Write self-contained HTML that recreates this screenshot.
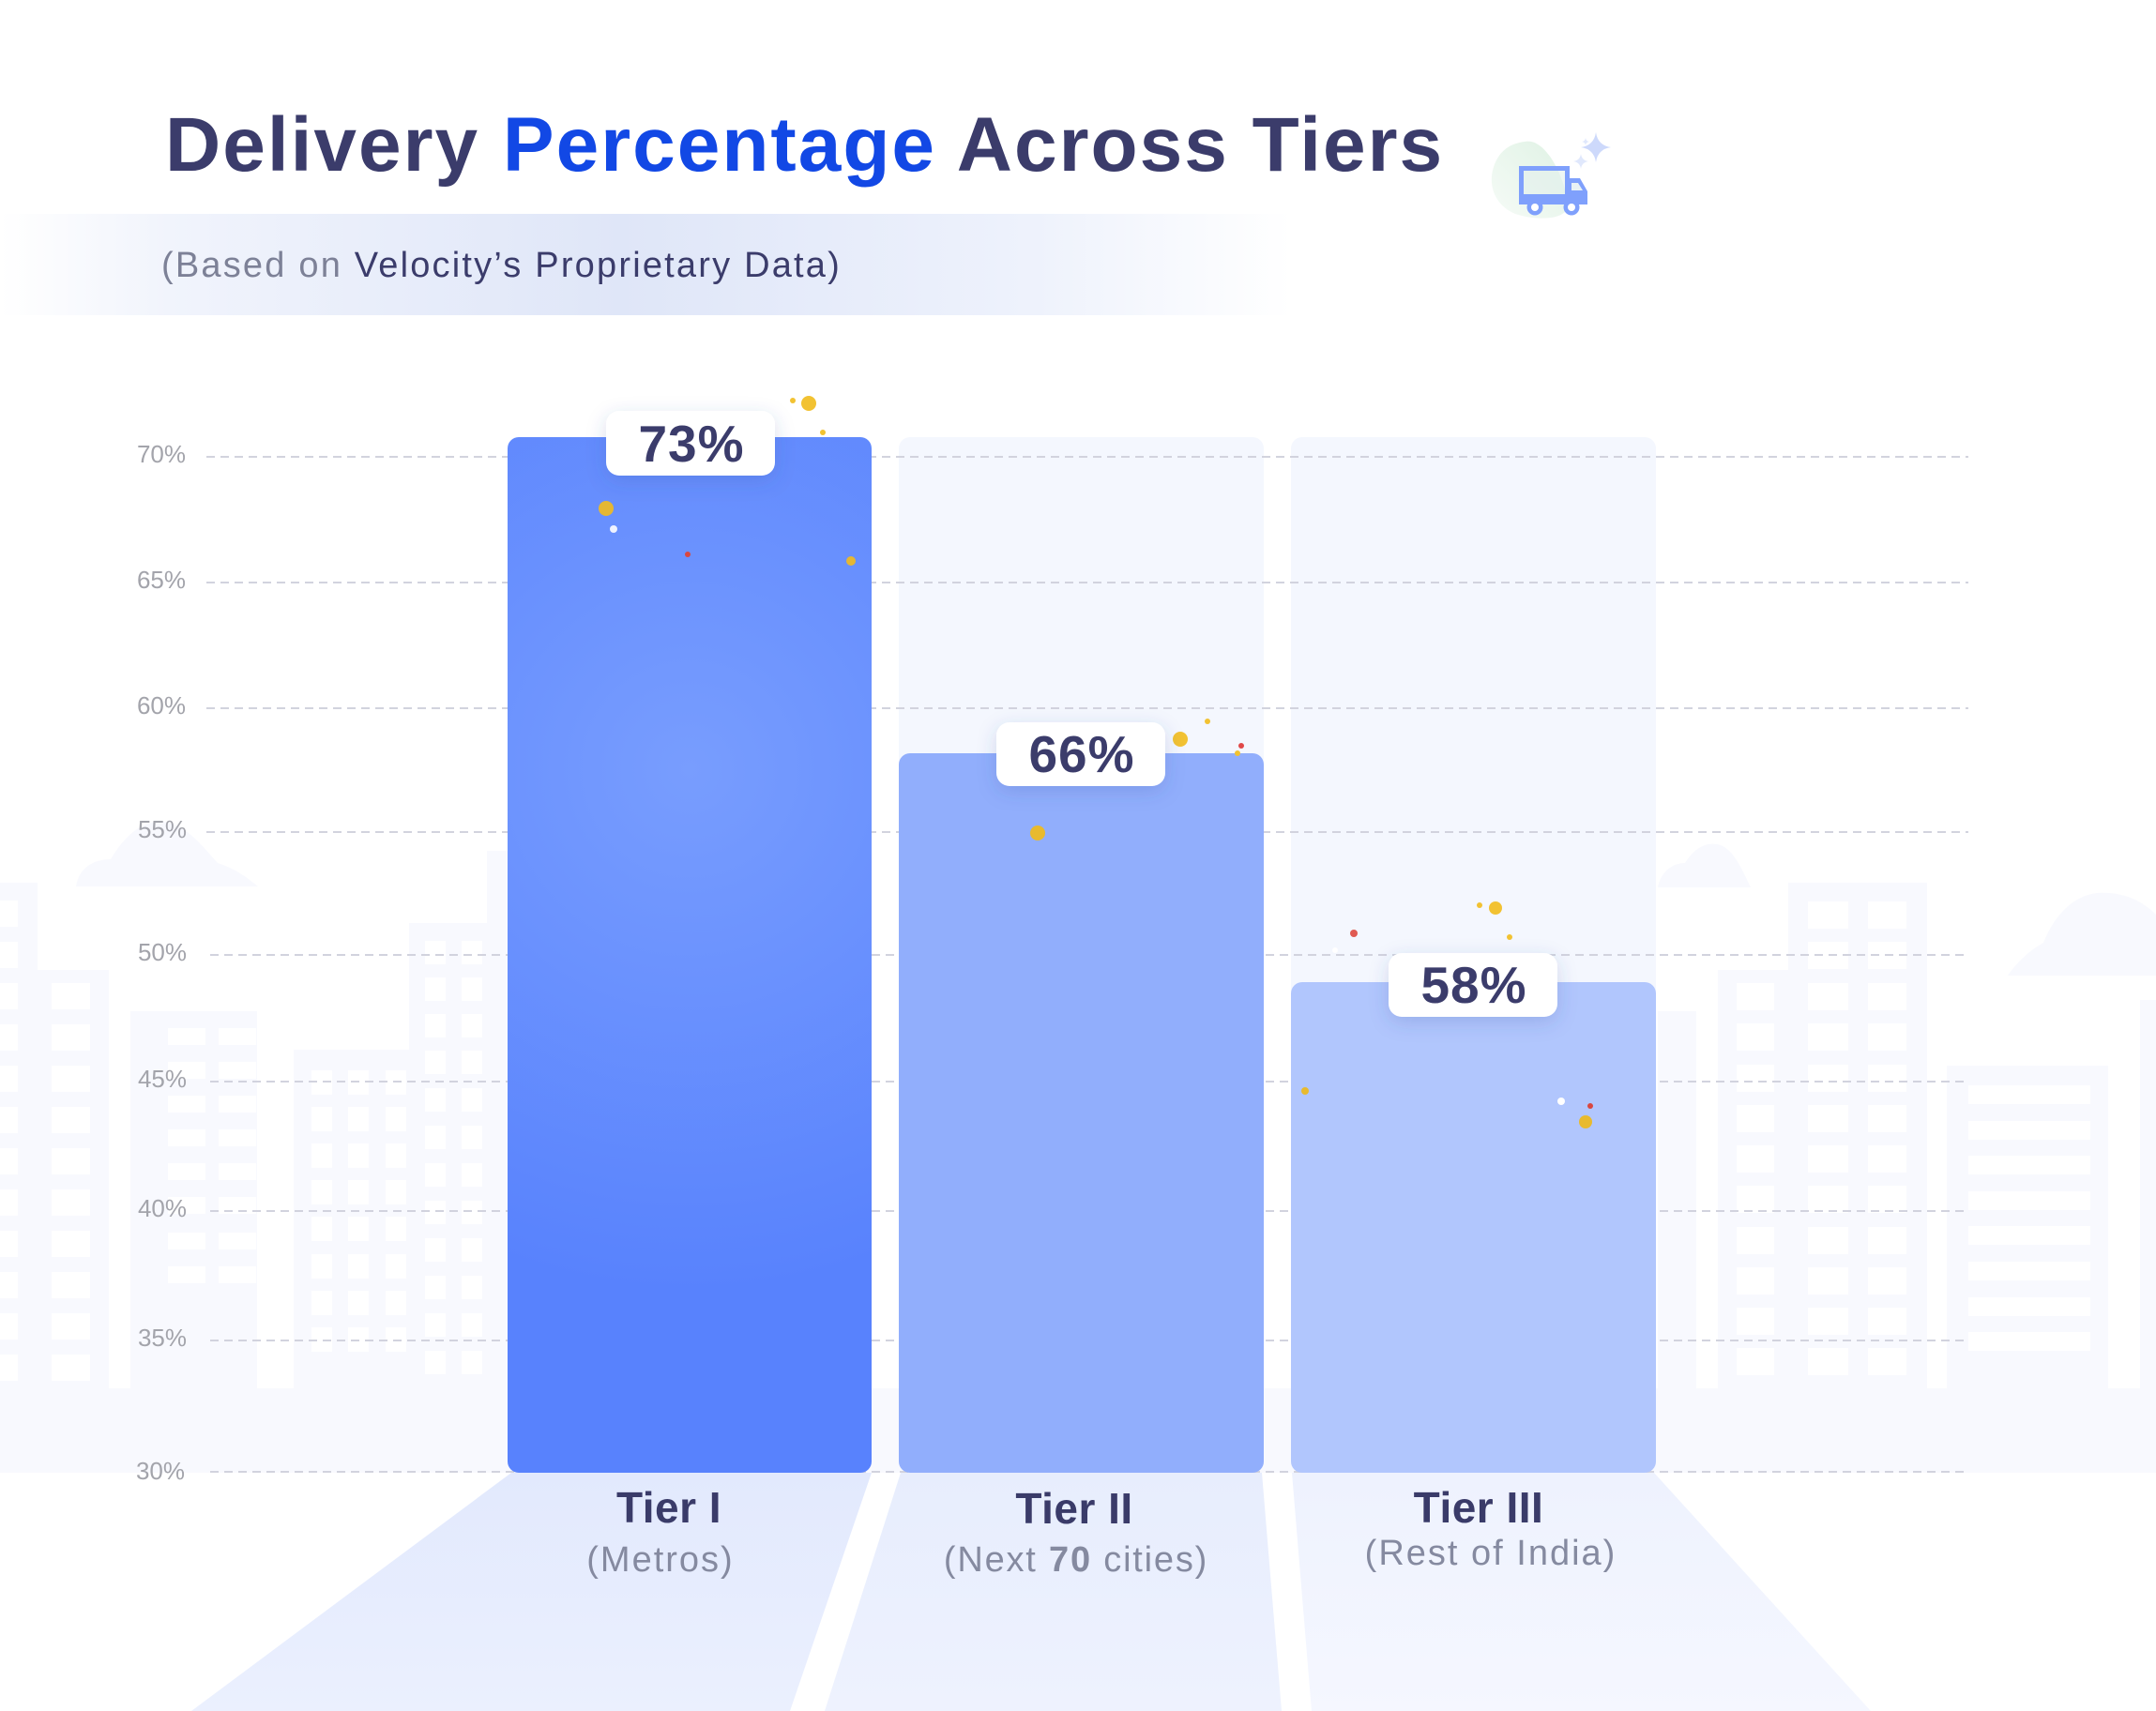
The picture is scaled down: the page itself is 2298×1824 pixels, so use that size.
<!DOCTYPE html>
<html>
<head>
<meta charset="utf-8">
<style>
  html, body { margin: 0; padding: 0; background: #ffffff; }
  body { width: 2298px; height: 1824px; overflow: hidden; }
  svg { display: block; }
  text { font-family: "Liberation Sans", "DejaVu Sans", sans-serif; }
</style>
</head>
<body>
<svg width="2298" height="1824" viewBox="0 0 2298 1824" xmlns="http://www.w3.org/2000/svg">
  <defs>
    <linearGradient id="band" x1="0" y1="0" x2="1" y2="0">
      <stop offset="0" stop-color="#ffffff"/>
      <stop offset="0.13" stop-color="#f1f4fc"/>
      <stop offset="0.48" stop-color="#dfe6f8"/>
      <stop offset="0.8" stop-color="#eef2fc"/>
      <stop offset="1" stop-color="#ffffff"/>
    </linearGradient>
    <radialGradient id="bar1g" gradientUnits="userSpaceOnUse" cx="735" cy="820" r="560">
      <stop offset="0" stop-color="#789dfe"/>
      <stop offset="1" stop-color="#5882fd"/>
    </radialGradient>
    <linearGradient id="fl1" x1="0" y1="0" x2="0" y2="1">
      <stop offset="0" stop-color="#e2e9fd"/>
      <stop offset="1" stop-color="#ebf0fe"/>
    </linearGradient>
    <linearGradient id="fl2" x1="0" y1="0" x2="0" y2="1">
      <stop offset="0" stop-color="#e7edfd"/>
      <stop offset="1" stop-color="#eef2fe"/>
    </linearGradient>
    <linearGradient id="fl3" x1="0" y1="0" x2="0" y2="1">
      <stop offset="0" stop-color="#eef2fe"/>
      <stop offset="1" stop-color="#f5f7ff"/>
    </linearGradient>
    <linearGradient id="blob" x1="0" y1="1" x2="1" y2="0">
      <stop offset="0" stop-color="#f6fbf7"/>
      <stop offset="1" stop-color="#dff2e4"/>
    </linearGradient>
    <filter id="sh" x="-30%" y="-50%" width="160%" height="220%">
      <feDropShadow dx="0" dy="6" stdDeviation="10" flood-color="#3c50a0" flood-opacity="0.2"/>
    </filter>
  </defs>

  <!-- Subtitle band -->
  <rect x="0" y="228" width="1377" height="108" fill="url(#band)"/>

  <!-- Title -->
  <text x="176" y="182" font-size="82" font-weight="700" letter-spacing="2" fill="#3b3c6b">Delivery <tspan fill="#1248e5">Percentage</tspan> Across Tiers</text>

  <!-- Subtitle -->
  <text x="172" y="295" font-size="38" letter-spacing="2.2" fill="#7d8197">(Based on <tspan fill="#3b3c6b">Velocity’s Proprietary Data)</tspan></text>

  <!-- Truck icon -->
  <path d="M1625 151 C1648 146 1668 190 1672 220 C1668 234 1640 236 1615 228 C1592 218 1586 196 1592 178 C1598 160 1610 153 1625 151 Z" fill="url(#blob)"/>
  <rect x="1621.5" y="179.5" width="49" height="33" fill="#e3f0ec" fill-opacity="0.6" stroke="#7fa0fc" stroke-width="5"/>
  <rect x="1619" y="207" width="73" height="11" fill="#7fa0fc"/>
  <path d="M1670 190 L1684 190 L1692 204 L1692 218 L1670 218 Z" fill="#7fa0fc"/>
  <path d="M1675 195 L1682 195 L1687 203 L1675 203 Z" fill="#e8f1f4"/>
  <circle cx="1636" cy="221" r="8.5" fill="#7fa0fc"/>
  <circle cx="1636" cy="221" r="4" fill="#ffffff"/>
  <circle cx="1675" cy="221" r="8.5" fill="#7fa0fc"/>
  <circle cx="1675" cy="221" r="4" fill="#ffffff"/>
  <!-- sparkles -->
  <path d="M1701 141 Q1703 155 1717 157 Q1703 159 1701 173 Q1699 159 1685 157 Q1699 155 1701 141 Z" fill="#cdd9fb"/>
  <path d="M1685 164 Q1686 171 1693 172 Q1686 173 1685 180 Q1684 173 1677 172 Q1684 171 1685 164 Z" fill="#e0e8fc"/>
  <path d="M1690 147 Q1690.5 150.5 1694 151 Q1690.5 151.5 1690 155 Q1689.5 151.5 1686 151 Q1689.5 150.5 1690 147 Z" fill="#e0e8fc"/>

  <!-- Faint skyline (left) -->
  <g fill="#f8f9fe">
    <path d="M81 945 C84 925 100 916 118 916 C132 892 150 876 170 876 C196 876 214 900 232 920 C250 926 262 934 275 945 Z"/>
    <rect x="0" y="941" width="40" height="629"/>
    <rect x="40" y="1034" width="76" height="536"/>
    <rect x="139" y="1078" width="135" height="492"/>
    <rect x="313" y="1119" width="123" height="451"/>
    <rect x="436" y="984" width="83" height="586"/>
    <rect x="519" y="907" width="22" height="663"/>
    <!-- right -->
    <path d="M1767 946 C1770 930 1782 920 1796 920 C1806 904 1818 898 1830 900 C1846 902 1856 925 1866 946 Z"/>
    <rect x="1767" y="1078" width="41" height="492"/>
    <rect x="1831" y="1034" width="75" height="536"/>
    <rect x="1906" y="941" width="148" height="629"/>
    <rect x="2075" y="1136" width="172" height="434"/>
    <rect x="2281" y="1066" width="17" height="504"/>
    <path d="M2140 1040 C2150 1025 2165 1012 2178 1005 C2190 975 2210 955 2235 952 C2265 950 2285 962 2298 975 L2298 1040 Z"/>
    <rect x="0" y="1480" width="2298" height="90"/>
  </g>
  <g fill="#ffffff">
    <!-- windows left -->
    <rect x="0" y="960" width="19" height="28"/><rect x="0" y="1004" width="19" height="28"/><rect x="0" y="1048" width="19" height="28"/><rect x="0" y="1092" width="19" height="28"/><rect x="0" y="1136" width="19" height="28"/><rect x="0" y="1180" width="19" height="28"/><rect x="0" y="1224" width="19" height="28"/><rect x="0" y="1268" width="19" height="28"/><rect x="0" y="1312" width="19" height="28"/><rect x="0" y="1356" width="19" height="28"/><rect x="0" y="1400" width="19" height="28"/><rect x="0" y="1444" width="19" height="28"/>
    <rect x="55" y="1048" width="41" height="28"/><rect x="55" y="1092" width="41" height="28"/><rect x="55" y="1136" width="41" height="28"/><rect x="55" y="1180" width="41" height="28"/><rect x="55" y="1224" width="41" height="28"/><rect x="55" y="1268" width="41" height="28"/><rect x="55" y="1312" width="41" height="28"/><rect x="55" y="1356" width="41" height="28"/><rect x="55" y="1400" width="41" height="28"/><rect x="55" y="1444" width="41" height="28"/>
    <rect x="179" y="1096" width="40" height="18"/><rect x="233" y="1096" width="40" height="18"/><rect x="179" y="1132" width="40" height="18"/><rect x="233" y="1132" width="40" height="18"/><rect x="179" y="1168" width="40" height="18"/><rect x="233" y="1168" width="40" height="18"/><rect x="179" y="1204" width="40" height="18"/><rect x="233" y="1204" width="40" height="18"/><rect x="179" y="1240" width="40" height="18"/><rect x="233" y="1240" width="40" height="18"/><rect x="179" y="1276" width="40" height="18"/><rect x="233" y="1276" width="40" height="18"/><rect x="179" y="1314" width="40" height="18"/><rect x="233" y="1314" width="40" height="18"/><rect x="179" y="1350" width="40" height="18"/><rect x="233" y="1350" width="40" height="18"/>
    <rect x="332" y="1141" width="22" height="26"/><rect x="371" y="1141" width="22" height="26"/><rect x="411" y="1141" width="22" height="26"/>
    <rect x="332" y="1180" width="22" height="26"/><rect x="371" y="1180" width="22" height="26"/><rect x="411" y="1180" width="22" height="26"/>
    <rect x="332" y="1219" width="22" height="26"/><rect x="371" y="1219" width="22" height="26"/><rect x="411" y="1219" width="22" height="26"/>
    <rect x="332" y="1258" width="22" height="26"/><rect x="371" y="1258" width="22" height="26"/><rect x="411" y="1258" width="22" height="26"/>
    <rect x="332" y="1297" width="22" height="26"/><rect x="371" y="1297" width="22" height="26"/><rect x="411" y="1297" width="22" height="26"/>
    <rect x="332" y="1337" width="22" height="26"/><rect x="371" y="1337" width="22" height="26"/><rect x="411" y="1337" width="22" height="26"/>
    <rect x="332" y="1376" width="22" height="26"/><rect x="371" y="1376" width="22" height="26"/><rect x="411" y="1376" width="22" height="26"/>
    <rect x="332" y="1415" width="22" height="26"/><rect x="371" y="1415" width="22" height="26"/><rect x="411" y="1415" width="22" height="26"/>
    <rect x="453" y="1003" width="22" height="25"/><rect x="492" y="1003" width="22" height="25"/><rect x="453" y="1042" width="22" height="25"/><rect x="492" y="1042" width="22" height="25"/><rect x="453" y="1081" width="22" height="25"/><rect x="492" y="1081" width="22" height="25"/><rect x="453" y="1120" width="22" height="25"/><rect x="492" y="1120" width="22" height="25"/><rect x="453" y="1160" width="22" height="25"/><rect x="492" y="1160" width="22" height="25"/><rect x="453" y="1200" width="22" height="25"/><rect x="492" y="1200" width="22" height="25"/><rect x="453" y="1240" width="22" height="25"/><rect x="492" y="1240" width="22" height="25"/><rect x="453" y="1280" width="22" height="25"/><rect x="492" y="1280" width="22" height="25"/><rect x="453" y="1320" width="22" height="25"/><rect x="492" y="1320" width="22" height="25"/><rect x="453" y="1360" width="22" height="25"/><rect x="492" y="1360" width="22" height="25"/><rect x="453" y="1400" width="22" height="25"/><rect x="492" y="1400" width="22" height="25"/><rect x="453" y="1440" width="22" height="25"/><rect x="492" y="1440" width="22" height="25"/>
    <!-- windows right -->
    <rect x="1927" y="961" width="43" height="29"/><rect x="1991" y="961" width="41" height="29"/>
    <rect x="1927" y="1004" width="43" height="29"/><rect x="1991" y="1004" width="41" height="29"/>
    <rect x="1851" y="1048" width="40" height="29"/><rect x="1927" y="1048" width="43" height="29"/><rect x="1991" y="1048" width="41" height="29"/>
    <rect x="1851" y="1091" width="40" height="29"/><rect x="1927" y="1091" width="43" height="29"/><rect x="1991" y="1091" width="41" height="29"/>
    <rect x="1851" y="1135" width="40" height="29"/><rect x="1927" y="1135" width="43" height="29"/><rect x="1991" y="1135" width="41" height="29"/>
    <rect x="1851" y="1178" width="40" height="29"/><rect x="1927" y="1178" width="43" height="29"/><rect x="1991" y="1178" width="41" height="29"/>
    <rect x="1851" y="1221" width="40" height="29"/><rect x="1927" y="1221" width="43" height="29"/><rect x="1991" y="1221" width="41" height="29"/>
    <rect x="1851" y="1264" width="40" height="29"/><rect x="1927" y="1264" width="43" height="29"/><rect x="1991" y="1264" width="41" height="29"/>
    <rect x="1851" y="1308" width="40" height="29"/><rect x="1927" y="1308" width="43" height="29"/><rect x="1991" y="1308" width="41" height="29"/>
    <rect x="1851" y="1351" width="40" height="29"/><rect x="1927" y="1351" width="43" height="29"/><rect x="1991" y="1351" width="41" height="29"/>
    <rect x="1851" y="1394" width="40" height="29"/><rect x="1927" y="1394" width="43" height="29"/><rect x="1991" y="1394" width="41" height="29"/>
    <rect x="1851" y="1437" width="40" height="29"/><rect x="1927" y="1437" width="43" height="29"/><rect x="1991" y="1437" width="41" height="29"/>
    <rect x="2098" y="1157" width="130" height="20"/><rect x="2098" y="1195" width="130" height="20"/><rect x="2098" y="1232" width="130" height="20"/><rect x="2098" y="1270" width="130" height="20"/><rect x="2098" y="1307" width="130" height="20"/><rect x="2098" y="1345" width="130" height="20"/><rect x="2098" y="1383" width="130" height="20"/><rect x="2098" y="1420" width="130" height="20"/>
  </g>

  <!-- Floor trapezoids -->
  <polygon points="545,1570 929,1570 842,1824 204,1824" fill="url(#fl1)"/>
  <polygon points="960,1570 1345,1570 1366,1824 879,1824" fill="url(#fl2)"/>
  <polygon points="1377,1570 1763,1570 1994,1824 1398,1824" fill="url(#fl3)"/>

  <!-- Light background bars -->
  <rect x="958" y="466" width="389" height="1104" rx="12" fill="#f4f7fe"/>
  <rect x="1376" y="466" width="389" height="1104" rx="12" fill="#f4f7fe"/>

  <!-- Gridlines -->
  <g stroke="#d2d3de" stroke-width="2" stroke-dasharray="9 6">
    <line x1="220" y1="487" x2="2098" y2="487"/>
    <line x1="220" y1="621" x2="2098" y2="621"/>
    <line x1="220" y1="755" x2="2098" y2="755"/>
    <line x1="220" y1="887" x2="2098" y2="887"/>
    <line x1="224" y1="1018" x2="2098" y2="1018"/>
    <line x1="224" y1="1153" x2="2098" y2="1153"/>
    <line x1="224" y1="1291" x2="2098" y2="1291"/>
    <line x1="224" y1="1429" x2="2098" y2="1429"/>
    <line x1="224" y1="1569" x2="2098" y2="1569"/>
  </g>

  <!-- Y axis labels -->
  <g font-size="26" fill="#a3a4ab" text-anchor="end">
    <text x="198" y="493">70%</text>
    <text x="198" y="627">65%</text>
    <text x="198" y="761">60%</text>
    <text x="199" y="893">55%</text>
    <text x="199" y="1024">50%</text>
    <text x="199" y="1159">45%</text>
    <text x="199" y="1297">40%</text>
    <text x="199" y="1435">35%</text>
    <text x="197" y="1577">30%</text>
  </g>

  <!-- Bars -->
  <rect x="541" y="466" width="388" height="1104" rx="12" fill="url(#bar1g)"/>
  <rect x="958" y="803" width="389" height="767" rx="12" fill="#91aefc"/>
  <rect x="1376" y="1047" width="389" height="523" rx="12" fill="#b1c6fd"/>

  <!-- Confetti dots -->
  <g>
    <circle cx="862" cy="430" r="8" fill="#f2c232"/>
    <circle cx="845" cy="427" r="3" fill="#f2c232"/>
    <circle cx="877" cy="461" r="3" fill="#f2c232"/>
    <circle cx="646" cy="542" r="8" fill="#e5b733"/>
    <circle cx="654" cy="564" r="4" fill="#eef2ff"/>
    <circle cx="733" cy="591" r="3" fill="#d9473f"/>
    <circle cx="907" cy="598" r="5" fill="#e5b733"/>

    <circle cx="1258" cy="788" r="8" fill="#f2c232"/>
    <circle cx="1287" cy="769" r="3" fill="#f2c232"/>
    <circle cx="1323" cy="795" r="3" fill="#e04848"/>
    <circle cx="1319" cy="803" r="3" fill="#f2c232"/>
    <circle cx="1106" cy="888" r="8" fill="#e8ba2e"/>

    <circle cx="1443" cy="995" r="4" fill="#e05a52"/>
    <circle cx="1594" cy="968" r="7" fill="#f2c232"/>
    <circle cx="1577" cy="965" r="3" fill="#f2c232"/>
    <circle cx="1609" cy="999" r="3" fill="#f2c232"/>
    <circle cx="1423" cy="1013" r="3" fill="#ffffff"/>
    <circle cx="1391" cy="1163" r="4" fill="#e8ba2e"/>
    <circle cx="1664" cy="1174" r="4" fill="#ffffff"/>
    <circle cx="1695" cy="1179" r="3" fill="#d9473f"/>
    <circle cx="1690" cy="1196" r="7" fill="#e8ba2e"/>
  </g>

  <!-- Value labels -->
  <g filter="url(#sh)">
    <rect x="646" y="438" width="180" height="69" rx="14" fill="#ffffff"/>
    <rect x="1062" y="770" width="180" height="68" rx="14" fill="#ffffff"/>
    <rect x="1480" y="1016" width="180" height="68" rx="14" fill="#ffffff"/>
  </g>
  <g font-size="55" font-weight="700" fill="#3b3c6b" text-anchor="middle" letter-spacing="1">
    <text x="737" y="492">73%</text>
    <text x="1153" y="823">66%</text>
    <text x="1571" y="1069">58%</text>
  </g>

  <!-- Category labels -->
  <g text-anchor="middle">
    <text x="713" y="1623" font-size="46" font-weight="700" fill="#3a3b69" letter-spacing="0.5">Tier I</text>
    <text x="704" y="1675" font-size="38" fill="#858aa0" letter-spacing="2">(Metros)</text>
    <text x="1145" y="1624" font-size="46" font-weight="700" fill="#3a3b69" letter-spacing="0.5">Tier II</text>
    <text x="1147" y="1675" font-size="38" fill="#858aa0" letter-spacing="1.8">(Next <tspan font-weight="700">70</tspan> cities)</text>
    <text x="1576" y="1623" font-size="46" font-weight="700" fill="#3a3b69" letter-spacing="0.5">Tier III</text>
    <text x="1589" y="1668" font-size="38" fill="#858aa0" letter-spacing="2">(Rest of India)</text>
  </g>
</svg>
</body>
</html>
